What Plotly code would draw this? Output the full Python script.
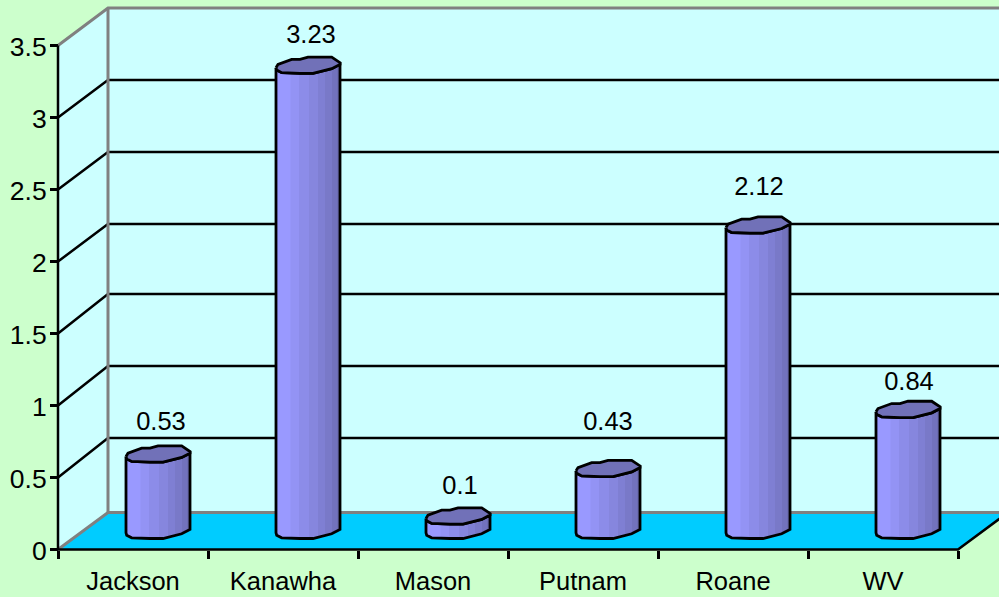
import numpy as np
import plotly.graph_objects as go

categories = ["Jackson", "Kanawha", "Mason", "Putnam", "Roane", "WV"]
values = [0.53, 3.23, 0.1, 0.43, 2.12, 0.84]
value_labels = ["0.53", "3.23", "0.1", "0.43", "2.12", "0.84"]
y_ticks = [0, 0.5, 1, 1.5, 2, 2.5, 3, 3.5]
y_tick_labels = ["0", "0.5", "1", "1.5", "2", "2.5", "3", "3.5"]

# ---- geometry / style (pixels per data unit; not data) ----
W, H = 999, 597
SX, SY = 150.0, 144.0
X0_PX, Y0_PX = 58.0, 549.5
DEPTH_X = 50.0 / SX
FLOOR_DY = 37.0 / SY
GRID_DY = [d / SY for d in (37, 39.5, 39.5, 39.5, 37.5, 37.5, 37.5, 37.5)]
XMAX = (W + 30 - X0_PX) / SX
YTOP = 3.5

FONT = dict(family="Liberation Sans, Arial, sans-serif", size=25.5, color="#000000")
YFONT = dict(family="Liberation Sans, Arial, sans-serif", size=26.5, color="#000000")
BG, WALL, FLOOR, GREY = "#CCFFCC", "#CCFFFF", "#00CCFF", "#808080"
TOP_FACE = "#7171B8"
BAND_FROM, BAND_TO = (153, 153, 255), (108, 108, 178)
BAND_EDGES = [-32, -17.5, -9, 1, 10, 17, 24, 29]
# top-face outline of a cylinder, pixel offsets from its axis (upper and lower rims)
UPPER = [(-32, 2.3), (-30, -1), (-16.3, -6), (-8, -6), (0, -8.3), (23.7, -8.3), (32, -2.7)]
LOWER = [(-32, 2.3), (-31.3, 4.7), (-26.3, 7.3), (-16.3, 8), (-8, 8), (5, 8), (15, 5.7), (23.7, 3.3), (32, -1)]
CYL_CX_OFF = 0.5 + 25.0 / SX
CYL_BASE_DY = 19.0 / SY
LABEL_DX = [3, 3, 2, 0, 1, 1]
LABEL_DY = [31, 29, 28, 45, 37, 26]


def poly(fig_traces, xs, ys, fill=None, line=None, width=0):
    fig_traces.append(go.Scatter(
        x=xs, y=ys, mode="lines" if line else "none",
        fill="toself" if fill else None, fillcolor=fill,
        line=dict(color=line or "rgba(0,0,0,0)", width=width),
        hoverinfo="skip", showlegend=False))


traces = []
dx, fdy = DEPTH_X, FLOOR_DY
top_back = YTOP + GRID_DY[-1]
# back wall and side wall
poly(traces, [dx, XMAX, XMAX, dx, dx], [fdy, fdy, top_back, top_back, fdy], fill=WALL)
poly(traces, [0, dx, dx, 0, 0], [0, fdy, top_back, YTOP, 0], fill=WALL)
# grid lines
for t, gd in zip(y_ticks[1:-1], GRID_DY[1:-1]):
    poly(traces, [0, dx, XMAX], [t, t + gd, t + gd], line="#000000", width=2.5)
# floor
poly(traces, [0, dx, 6 + dx, 6, 0], [0, fdy, fdy, 0, 0], fill=FLOOR)
# grey frame
poly(traces, [0, dx, XMAX], [0, fdy, fdy], line=GREY, width=3)
poly(traces, [0, dx, XMAX], [YTOP, top_back, top_back], line=GREY, width=3)
poly(traces, [dx, dx], [fdy, top_back], line=GREY, width=3)
# axis lines
poly(traces, [0, 0], [0, YTOP], line="#000000", width=2.5)
poly(traces, [0, 6, 6 + dx], [0, 0, fdy], line="#000000", width=2.5)

# cylinders
up = np.array(UPPER) / [SX, SY]
lo = np.array(LOWER) / [SX, SY]
up_y, lo_y = -up[:, 1], -lo[:, 1]
n_b = len(BAND_EDGES)
for k, edge in enumerate(BAND_EDGES):
    f = k / (n_b - 1)
    col = "rgb(%d,%d,%d)" % tuple(round(a + (b - a) * f) for a, b in zip(BAND_FROM, BAND_TO))
    ex = edge / SX
    bx = np.concatenate([[ex], lo[:, 0][lo[:, 0] > ex]])
    by = np.interp(bx, lo[:, 0], lo_y)
    xs, ys = [], []
    for i, v in enumerate(values):
        cx = i + CYL_CX_OFF
        xs += list(cx + bx) + list(cx + bx[::-1]) + [cx + bx[0], None]
        ys += list(v + CYL_BASE_DY + by) + list(CYL_BASE_DY + by[::-1]) + [v + CYL_BASE_DY + by[0], None]
    poly(traces, xs, ys, fill=col)

for i, v in enumerate(values):
    cx = i + CYL_CX_OFF
    # silhouette
    sx = list(cx + lo[:, 0]) + list(cx + lo[::-1, 0]) + [cx + lo[0, 0]]
    sy = list(v + CYL_BASE_DY + lo_y) + list(CYL_BASE_DY + lo_y[::-1]) + [v + CYL_BASE_DY + lo_y[0]]
    poly(traces, sx, sy, line="#000000", width=2.8)
    # top face
    tx = list(cx + up[:, 0]) + list(cx + lo[::-1, 0])
    ty = list(v + CYL_BASE_DY + up_y) + list(v + CYL_BASE_DY + lo_y[::-1])
    poly(traces, tx, ty, fill=TOP_FACE, line="#000000", width=2.8)

# value labels
traces.append(go.Scatter(
    x=[i + CYL_CX_OFF + d / SX for i, d in enumerate(LABEL_DX)],
    y=[v + CYL_BASE_DY + d / SY for v, d in zip(values, LABEL_DY)],
    mode="text", text=value_labels, textposition="middle center",
    textfont=FONT, hoverinfo="skip", showlegend=False))

fig = go.Figure(traces)
fig.update_layout(
    width=W, height=H, autosize=False,
    margin=dict(l=0, r=0, t=0, b=0, pad=0),
    paper_bgcolor=BG, plot_bgcolor=BG, showlegend=False,
    font=FONT,
    xaxis=dict(
        range=[-X0_PX / SX, (W - X0_PX) / SX],
        anchor="free", position=(H - Y0_PX) / H,
        tickmode="array", tickvals=[i + 0.5 for i in range(len(categories))],
        ticktext=categories, ticks="", showgrid=False, zeroline=False, showline=False,
        ticklabelstandoff=14,
        minor=dict(tickmode="array", tickvals=list(range(len(categories) + 1)),
                   ticks="outside", ticklen=8, tickwidth=2.5, tickcolor="#000000", showgrid=False),
        tickfont=FONT, layer="above traces"),
    yaxis=dict(
        range=[-(H - Y0_PX) / SY, Y0_PX / SY],
        anchor="free", position=X0_PX / W,
        tickmode="array", tickvals=y_ticks, ticktext=y_tick_labels,
        ticks="outside", ticklen=8, tickwidth=2.5, tickcolor="#000000",
        ticklabelstandoff=-2, ticklabelshift=1,
        showgrid=False, zeroline=False, showline=False,
        tickfont=YFONT, layer="above traces"),
)
fig.write_html("out.html", config=dict(displayModeBar=False),
               post_script="document.body.style.margin='0';document.documentElement.style.overflow='hidden';")
